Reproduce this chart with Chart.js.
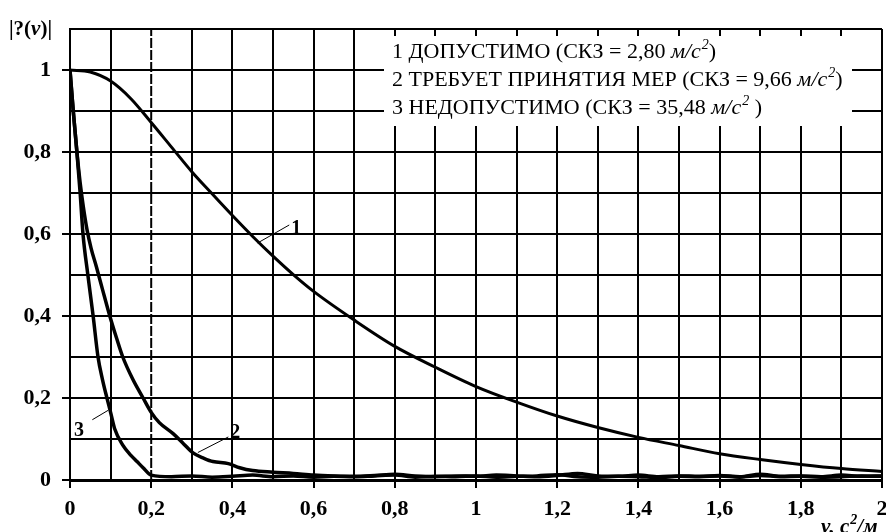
<!DOCTYPE html>
<html>
<head>
<meta charset="utf-8">
<script src="https://cdn.jsdelivr.net/npm/chart.js@4.4.1/dist/chart.umd.min.js"></script>
<style>
  html, body { margin: 0; padding: 0; background: #fff; }
</style>
</head>
<body>
<canvas id="spectrumChart" width="886" height="532"></canvas>
<script>
// curve 1 - ДОПУСТИМО
var curve1X = [0, 0.05, 0.1, 0.15, 0.2, 0.25, 0.3, 0.35, 0.4, 0.45, 0.5, 0.55, 0.6, 0.7, 0.8, 0.9, 1.0,
               1.1, 1.2, 1.3, 1.4, 1.5, 1.6, 1.7, 1.8, 1.9, 2.0];
var curve1Y = [1, 0.995, 0.973, 0.93, 0.872, 0.812, 0.752, 0.698, 0.645, 0.594, 0.546, 0.501, 0.46, 0.39, 0.326,
               0.275, 0.228, 0.19, 0.156, 0.128, 0.104, 0.084, 0.064, 0.05, 0.038, 0.028, 0.021];

// curve 2 - ТРЕБУЕТ ПРИНЯТИЯ МЕР
var curve2X = [0, 0.008, 0.017, 0.025, 0.033, 0.042, 0.052, 0.065, 0.08, 0.098, 0.115, 0.13, 0.155, 0.18,
               0.2, 0.22, 0.254, 0.28, 0.303, 0.33, 0.352, 0.39, 0.418, 0.45, 0.5, 0.55, 0.6, 0.65, 0.7,
               0.75, 0.8, 0.85, 0.9, 0.95, 1.0, 1.05, 1.1, 1.15, 1.2, 1.25, 1.3, 1.35, 1.4, 1.45, 1.5,
               1.55, 1.6, 1.65, 1.7, 1.75, 1.8, 1.85, 1.9, 1.95, 2.0];
var curve2Y = [1, 0.9, 0.8, 0.725, 0.665, 0.61, 0.565, 0.52, 0.465, 0.4, 0.345, 0.3, 0.245, 0.2,
               0.165, 0.14, 0.113, 0.088, 0.066, 0.053, 0.045, 0.04, 0.03, 0.023, 0.019, 0.016, 0.012, 0.01, 0.009,
               0.011, 0.014, 0.01, 0.008, 0.01, 0.009, 0.012, 0.01, 0.008, 0.011, 0.016, 0.01, 0.009, 0.012, 0.008, 0.01,
               0.009, 0.011, 0.008, 0.014, 0.009, 0.01, 0.008, 0.012, 0.009, 0.01];

// curve 3 - НЕДОПУСТИМО
var curve3X = [0, 0.008, 0.017, 0.025, 0.032, 0.044, 0.057, 0.069, 0.08, 0.091, 0.1, 0.11, 0.13, 0.15,
               0.165, 0.18, 0.2, 0.25, 0.3, 0.35, 0.4, 0.45, 0.5, 0.55, 0.6, 0.65, 0.7, 0.75, 0.8, 0.85,
               0.9, 0.95, 1.0, 1.05, 1.1, 1.15, 1.2, 1.25, 1.3, 1.35, 1.4, 1.45, 1.5, 1.55, 1.6, 1.65,
               1.7, 1.75, 1.8, 1.85, 1.9, 1.95, 2.0];
var curve3Y = [1, 0.9, 0.8, 0.7, 0.6, 0.5, 0.4, 0.3, 0.245, 0.2, 0.165, 0.125, 0.085, 0.06,
               0.045, 0.03, 0.012, 0.008, 0.01, 0.007, 0.009, 0.012, 0.008, 0.01, 0.007, 0.009, 0.008, 0.01, 0.012, 0.007,
               0.009, 0.008, 0.01, 0.007, 0.009, 0.01, 0.013, 0.008, 0.007, 0.009, 0.008, 0.006, 0.009, 0.008, 0.01, 0.007,
               0.011, 0.008, 0.009, 0.007, 0.008, 0.01, 0.009];

// dashed vertical marker
var markerX = [0.2, 0.2];
var markerY = [0, 1.1];

var legendLines = [
    ['1 ДОПУСТИМО (СКЗ = 2,80 ', ')'],
    ['2 ТРЕБУЕТ ПРИНЯТИЯ МЕР (СКЗ = 9,66 ', ')'],
    ['3 НЕДОПУСТИМО (СКЗ = 35,48 ', ' )']
];

// curve labels: [text, textX, textY, lineFromX, lineFromY, lineToX, lineToY]
var curveLabels = [
    ['1', 0.545, 0.612, 0.462, 0.578, 0.54, 0.622],
    ['2', 0.395, 0.115, 0.315, 0.067, 0.39, 0.105],
    ['3', 0.01, 0.12, 0.055, 0.147, 0.094, 0.17]
];

function toPoints(xs, ys) {
    return xs.map(function (x, i) { return {x: x, y: ys[i]}; });
}

function tenths(v) {
    return Math.round(v * 10);
}

function commaLabel(v) {
    var t = tenths(v);
    if (t % 2 !== 0) return '';
    return (t / 10).toString().replace('.', ',');
}

var SERIF = '"Liberation Serif", "Times New Roman", serif';

var annotations = {
    id: 'annotations',
    afterDraw: function (chart) {
        var c = chart.ctx;
        var xs = chart.scales.x, ys = chart.scales.y;
        c.save();

        // legend box
        c.fillStyle = '#fff';
        c.fillRect(384, 36, 468, 90);
        c.fillStyle = '#000';
        c.textBaseline = 'alphabetic';
        legendLines.forEach(function (parts, i) {
            var y = 58 + i * 28;
            var x = 392;
            c.font = '22px ' + SERIF;
            c.fillText(parts[0], x, y);
            x += c.measureText(parts[0]).width;
            c.font = 'italic 22px ' + SERIF;
            c.fillText('м/с', x, y);
            x += c.measureText('м/с').width;
            c.font = 'italic 14px ' + SERIF;
            c.fillText('2', x + 1, y - 9);
            x += c.measureText('2').width + 1;
            c.font = '22px ' + SERIF;
            c.fillText(parts[1], x, y);
        });

        // curve labels with leader lines
        c.lineWidth = 1;
        c.strokeStyle = '#000';
        curveLabels.forEach(function (l) {
            c.beginPath();
            c.moveTo(xs.getPixelForValue(l[3]), ys.getPixelForValue(l[4]));
            c.lineTo(xs.getPixelForValue(l[5]), ys.getPixelForValue(l[6]));
            c.stroke();
            c.font = 'bold 20px ' + SERIF;
            c.textBaseline = 'middle';
            c.fillText(l[0], xs.getPixelForValue(l[1]), ys.getPixelForValue(l[2]));
        });

        // y axis title |?(v)|
        c.textBaseline = 'alphabetic';
        var tx = 9, ty = 35;
        c.font = 'bold 21px ' + SERIF;
        c.fillText('|?(', tx, ty);
        tx += c.measureText('|?(').width;
        c.font = 'bold italic 21px ' + SERIF;
        c.fillText('v', tx, ty);
        tx += c.measureText('v').width;
        c.font = 'bold 21px ' + SERIF;
        c.fillText(')|', tx, ty);

        // x axis title v, c2/м
        tx = 821; ty = 533;
        c.font = 'bold italic 21px ' + SERIF;
        c.fillText('v, c', tx, ty);
        tx += c.measureText('v, c').width;
        c.font = 'bold italic 14px ' + SERIF;
        c.fillText('2', tx + 1, ty - 9);
        tx += c.measureText('2').width + 1;
        c.font = 'bold italic 21px ' + SERIF;
        c.fillText('/м', tx, ty);

        c.restore();
    }
};

var ctx = document.getElementById('spectrumChart').getContext('2d');
var spectrumChart = new Chart(ctx, {
    type: 'scatter',
    data: {
        datasets: [{
            label: '1',
            data: toPoints(curve1X, curve1Y),
            showLine: true,
            borderColor: '#000',
            borderWidth: 3,
            pointRadius: 0,
            cubicInterpolationMode: 'monotone'
        }, {
            label: '2',
            data: toPoints(curve2X, curve2Y),
            showLine: true,
            borderColor: '#000',
            borderWidth: 3.5,
            pointRadius: 0,
            cubicInterpolationMode: 'monotone'
        }, {
            label: '3',
            data: toPoints(curve3X, curve3Y),
            showLine: true,
            borderColor: '#000',
            borderWidth: 3.5,
            pointRadius: 0,
            cubicInterpolationMode: 'monotone'
        }, {
            label: 'marker',
            data: toPoints(markerX, markerY),
            showLine: true,
            borderColor: '#000',
            borderWidth: 2,
            borderDash: [10, 2],
            pointRadius: 0
        }]
    },
    options: {
        responsive: false,
        animation: false,
        layout: {
            padding: {top: 29, right: 4, left: 0, bottom: 0}
        },
        plugins: {
            legend: { display: false },
            tooltip: { enabled: false }
        },
        scales: {
            x: {
                type: 'linear',
                min: 0,
                max: 2,
                border: { display: true, color: '#000', width: 3 },
                grid: {
                    color: function (c) { return tenths(c.tick.value) === 2 ? 'rgba(0,0,0,0)' : '#000'; },
                    lineWidth: 2,
                    tickLength: 8,
                    tickColor: function (c) { return tenths(c.tick.value) % 2 === 0 ? '#000' : 'rgba(0,0,0,0)'; },
                    tickWidth: 2
                },
                ticks: {
                    stepSize: 0.1,
                    maxRotation: 0,
                    autoSkip: false,
                    padding: 8,
                    color: '#000',
                    font: { family: SERIF, size: 22, weight: 'bold' },
                    callback: function (v) { return commaLabel(v); }
                },
                afterFit: function (s) {
                    s.height = 52;
                    s.paddingLeft = 0;
                    s.paddingRight = 0;
                }
            },
            y: {
                type: 'linear',
                min: 0,
                max: 1.1,
                border: { display: true, color: '#000', width: 2 },
                grid: {
                    color: '#000',
                    lineWidth: 2,
                    tickLength: 8,
                    tickColor: function (c) { return tenths(c.tick.value) % 2 === 0 ? '#000' : 'rgba(0,0,0,0)'; },
                    tickWidth: 2
                },
                ticks: {
                    stepSize: 0.1,
                    autoSkip: false,
                    padding: 11,
                    color: '#000',
                    font: { family: SERIF, size: 22, weight: 'bold' },
                    callback: function (v) { return tenths(v) > 10 ? '' : commaLabel(v); }
                },
                afterFit: function (s) {
                    s.width = 70;
                    s.paddingTop = 0;
                    s.paddingBottom = 0;
                }
            }
        }
    },
    plugins: [annotations]
});
</script>
</body>
</html>
